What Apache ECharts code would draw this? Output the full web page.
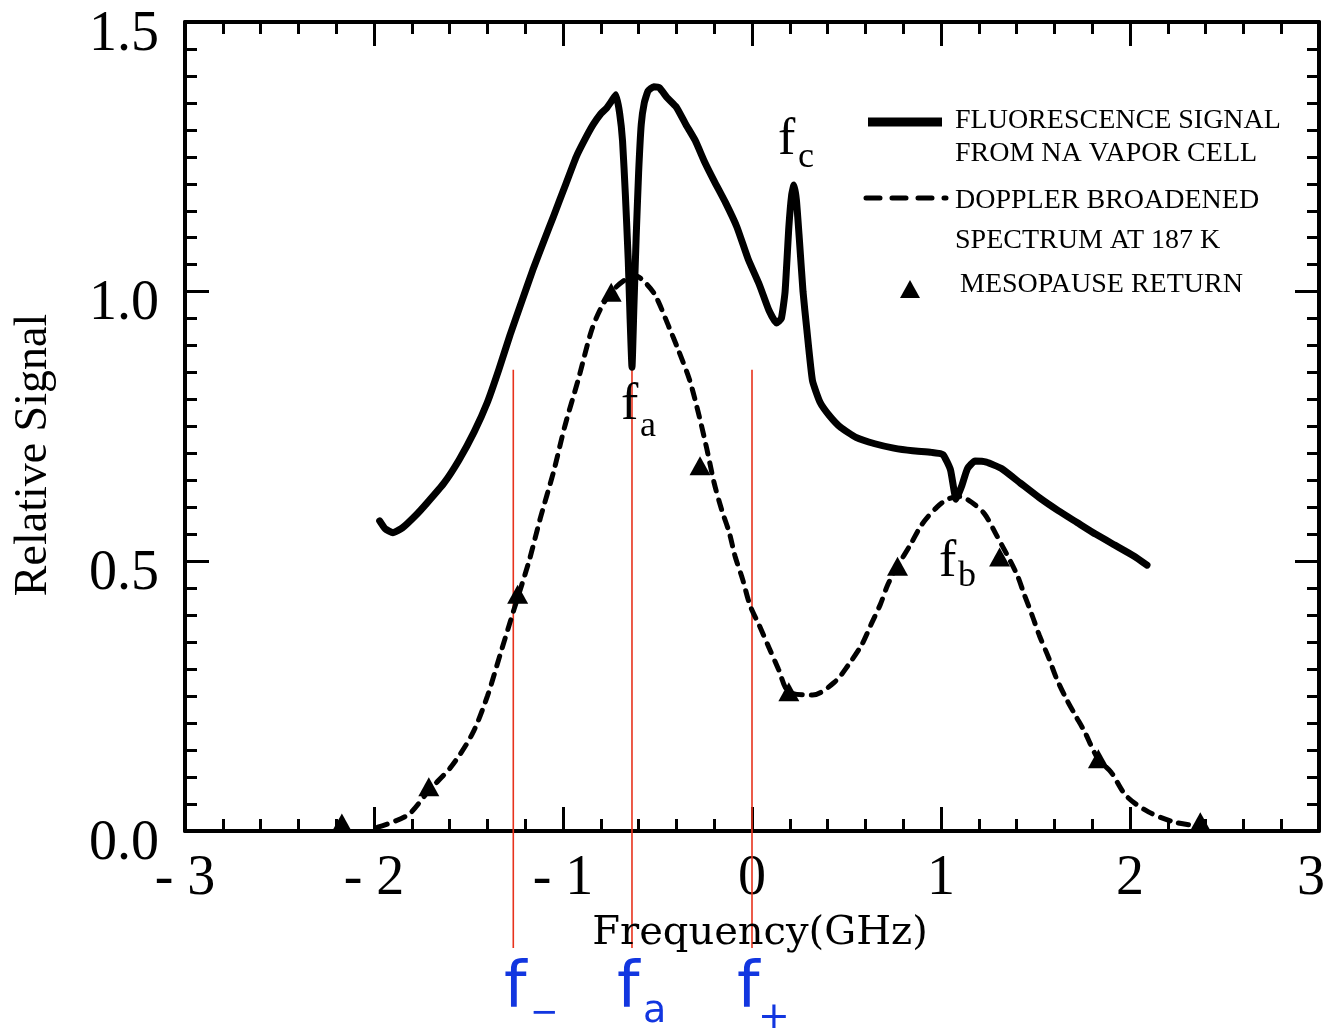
<!DOCTYPE html>
<html>
<head>
<meta charset="utf-8">
<script src="https://cdn.jsdelivr.net/npm/echarts@6/dist/echarts.min.js"></script>
<style>
  html, body { margin: 0; padding: 0; background: #fff; overflow: hidden; }
  #chart { width: 1324px; height: 1031px; }
</style>
</head>
<body>
<div id="chart"></div>
<script>
// Frequency axis ticks (GHz) and signal axis ticks
const freqTicks = [-3, -2, -1, 0, 1, 2, 3];
const signalTicks = [0.0, 0.5, 1.0, 1.5];

// Fluorescence signal from the Na vapor cell
const fluorX = [-1.97, -1.94, -1.90, -1.85, -1.78, -1.72, -1.63, -1.55, -1.47, -1.40, -1.34, -1.28, -1.22, -1.16, -1.10, -1.05,
  -0.99, -0.93, -0.88, -0.84, -0.80, -0.77, -0.74, -0.72, -0.70, -0.685, -0.67, -0.655, -0.645, -0.635, -0.625, -0.613,
  -0.60, -0.586, -0.57, -0.55, -0.52, -0.49, -0.45, -0.40, -0.35, -0.30, -0.25, -0.20, -0.14, -0.08, -0.02, 0.04,
  0.09, 0.13, 0.155, 0.175, 0.195, 0.21, 0.222, 0.235, 0.25, 0.27, 0.29, 0.32, 0.36, 0.41, 0.47, 0.55,
  0.65, 0.75, 0.85, 0.95, 1.01, 1.05, 1.08, 1.11, 1.14, 1.18, 1.24, 1.32, 1.42, 1.52, 1.62, 1.72,
  1.82, 1.92, 2.02, 2.09];
const fluorY = [0.575, 0.560, 0.553, 0.562, 0.585, 0.608, 0.645, 0.688, 0.740, 0.795, 0.855, 0.920, 0.980, 1.040, 1.095, 1.140,
  1.195, 1.250, 1.285, 1.310, 1.330, 1.340, 1.355, 1.365, 1.330, 1.280, 1.180, 1.060, 0.950, 0.860, 0.970, 1.100,
  1.220, 1.310, 1.350, 1.372, 1.380, 1.378, 1.360, 1.342, 1.310, 1.280, 1.240, 1.205, 1.165, 1.120, 1.060, 1.012,
  0.965, 0.942, 0.950, 1.000, 1.120, 1.180, 1.198, 1.170, 1.100, 1.000, 0.930, 0.835, 0.795, 0.770, 0.748, 0.730,
  0.718, 0.710, 0.705, 0.702, 0.698, 0.670, 0.615, 0.640, 0.672, 0.686, 0.684, 0.672, 0.645, 0.618, 0.594, 0.572,
  0.550, 0.530, 0.510, 0.493];

// Doppler broadened spectrum at 187 K
const dopplerX = [-1.98, -1.82, -1.71, -1.59, -1.48, -1.40, -1.33, -1.26, -1.18, -1.12, -1.05, -0.99, -0.92, -0.85, -0.80, -0.745,
  -0.68, -0.62, -0.56, -0.51, -0.44, -0.39, -0.33, -0.28, -0.24, -0.20, -0.16, -0.12, -0.09, -0.05, -0.01, 0.04,
  0.09, 0.14, 0.195, 0.32, 0.44, 0.51, 0.58, 0.63, 0.68, 0.72, 0.77, 0.84, 0.90, 0.98, 1.04, 1.10,
  1.16, 1.23, 1.29, 1.40, 1.44, 1.48, 1.52, 1.57, 1.61, 1.66, 1.71, 1.76, 1.83, 1.90, 1.98, 2.10,
  2.24, 2.37];
const dopplerY = [0.007, 0.030, 0.075, 0.120, 0.180, 0.250, 0.330, 0.410, 0.500, 0.580, 0.666, 0.751, 0.836, 0.927, 0.969, 0.999,
  1.020, 1.030, 1.015, 0.992, 0.935, 0.892, 0.836, 0.770, 0.710, 0.645, 0.595, 0.553, 0.510, 0.467, 0.418, 0.380,
  0.340, 0.300, 0.258, 0.252, 0.277, 0.308, 0.345, 0.383, 0.421, 0.458, 0.491, 0.532, 0.569, 0.601, 0.616, 0.620,
  0.610, 0.588, 0.551, 0.477, 0.439, 0.402, 0.363, 0.321, 0.284, 0.247, 0.215, 0.184, 0.134, 0.109, 0.065, 0.035,
  0.016, 0.009];

// Mesopause lidar return
const returnX = [-2.17, -1.71, -1.24, -0.745, -0.275, 0.195, 0.77, 1.31, 1.833, 2.372];
const returnY = [0.015, 0.082, 0.439, 0.999, 0.677, 0.258, 0.491, 0.508, 0.134, 0.017];

// Laser frequencies f-, fa, f+ (GHz) and the extent of their marker lines
const laserNames = ['f-', 'fa', 'f+'];
const laserFreq = [-1.263, -0.635, 0.0];
const laserSpan = [0.855, -0.217];

const zip = (xs, ys) => xs.map((x, i) => [x, ys[i]]);

const chart = echarts.init(document.getElementById('chart'), null, { renderer: 'canvas', width: 1324, height: 1031 });

const serif = 'Liberation Serif, Times New Roman, serif';
const black = '#000';

function frameAxis(pos, isX, showLabel) {
  const a = {
    type: 'value',
    position: pos,
    min: isX ? freqTicks[0] : signalTicks[0],
    max: isX ? freqTicks[freqTicks.length - 1] : signalTicks[signalTicks.length - 1],
    interval: isX ? 1 : 0.5,
    axisLine: { show: true, onZero: false, lineStyle: { color: black, width: 4 } },
    axisTick: { show: true, inside: true, length: 24, lineStyle: { color: black, width: 3 } },
    minorTick: { show: true, splitNumber: isX ? 5 : 10, length: 12, lineStyle: { color: black, width: 3 } },
    splitLine: { show: false },
    minorSplitLine: { show: false },
    axisLabel: { show: false }
  };
  if (showLabel) {
    if (isX) {
      const last = freqTicks[freqTicks.length - 1];
      a.axisLabel = {
        show: true, margin: 20, color: black, fontFamily: serif, fontSize: 56,
        formatter: v => (v === last ? '{end|' + v + '}' : (v < 0 ? '- ' + Math.abs(v) : String(v))),
        rich: { end: { fontFamily: serif, fontSize: 56, color: black, padding: [0, 16, 0, 0] } }
      };
    } else {
      a.axisLabel = {
        show: true, margin: 26, color: black, fontFamily: serif, fontSize: 56,
        formatter: v => '{v|' + v.toFixed(1) + '}',
        rich: { v: { fontFamily: serif, fontSize: 56, color: black, padding: [26, 0, 0, 0] } }
      };
    }
  }
  return a;
}

function txt(text, x, y, size, opts) {
  opts = opts || {};
  return {
    type: 'text', silent: true, z: 100,
    rotation: opts.rotation || 0,
    x: x, y: y,
    style: {
      text: text,
      fontSize: size,
      fontFamily: opts.family || serif,
      fontWeight: opts.weight || 'normal',
      fill: opts.color || black,
      align: opts.align || 'left',
      verticalAlign: opts.valign || 'middle',
      textAlign: opts.align || 'left',
      textVerticalAlign: opts.valign || 'middle'
    }
  };
}

const blue = '#1236e0';
const comic = 'Comic Sans MS, DejaVu Sans, sans-serif';

const graphics = [
  // axis titles
  txt('Relative Signal', 34, 455, 46, { rotation: Math.PI / 2, align: 'center' }),
  txt('Frequency(GHz)', 760, 934, 40, { family: 'DejaVu Serif, serif', align: 'center' }),

  // legend
  { type: 'line', silent: true, shape: { x1: 868, y1: 122, x2: 942, y2: 122 }, style: { stroke: black, lineWidth: 9 } },
  txt('FLUORESCENCE SIGNAL', 955, 121, 28),
  txt('FROM NA VAPOR CELL', 955, 154, 28),
  { type: 'line', silent: true, shape: { x1: 866, y1: 198, x2: 946, y2: 198 },
    style: { stroke: black, lineWidth: 5, lineDash: [14, 12], lineCap: 'round' } },
  txt('DOPPLER BROADENED', 955, 201, 28),
  txt('SPECTRUM AT 187 K', 955, 241, 28),
  { type: 'polygon', silent: true, shape: { points: [[910, 280], [900, 298], [920, 298]] }, style: { fill: black } },
  txt('MESOPAUSE RETURN', 960, 285, 28),

  // resonance annotations
  txt('f', 778, 140, 52),
  txt('c', 798, 158, 36),
  txt('f', 621, 405, 52),
  txt('a', 640, 427, 36),
  txt('f', 939, 562, 52),
  txt('b', 958, 577, 36),

  // laser frequency labels
  txt('f', 504, 990, 64, { family: comic, color: blue }),
  txt('−', 530, 1014, 34, { family: comic, color: blue }),
  txt('f', 617, 990, 64, { family: comic, color: blue }),
  txt('a', 643, 1012, 38, { family: comic, color: blue }),
  txt('f', 737, 990, 64, { family: comic, color: blue }),
  txt('+', 758, 1018, 38, { family: comic, color: blue })
];

const laserSeries = laserFreq.map((f, i) => ({
  name: laserNames[i],
  type: 'line',
  clip: false,
  silent: true,
  symbol: 'none',
  z: 1,
  data: [[f, laserSpan[0]], [f, laserSpan[1]]],
  lineStyle: { color: '#e8321c', width: 1.6 }
}));

chart.setOption({
  animation: false,
  backgroundColor: '#fff',
  grid: { left: 185, right: 5, top: 22, bottom: 200, containLabel: false, outerBoundsMode: 'none' },
  xAxis: [frameAxis('bottom', true, true), frameAxis('top', true, false)],
  yAxis: [frameAxis('left', false, true), frameAxis('right', false, false)],
  series: [
    {
      name: 'FLUORESCENCE SIGNAL FROM NA VAPOR CELL',
      type: 'line',
      symbol: 'none',
      smooth: 0.15,
      z: 3,
      data: zip(fluorX, fluorY),
      lineStyle: { color: black, width: 7, join: 'round', cap: 'round' }
    },
    {
      name: 'DOPPLER BROADENED SPECTRUM AT 187 K',
      type: 'line',
      symbol: 'none',
      smooth: 0.3,
      z: 2,
      data: zip(dopplerX, dopplerY),
      lineStyle: { color: black, width: 5, type: [10, 9], cap: 'round' }
    },
    {
      name: 'MESOPAUSE RETURN',
      type: 'scatter',
      symbol: 'triangle',
      symbolSize: [21, 19],
      z: 4,
      data: zip(returnX, returnY),
      itemStyle: { color: black, opacity: 1 }
    }
  ].concat(laserSeries),
  graphic: graphics
});
</script>
</body>
</html>
